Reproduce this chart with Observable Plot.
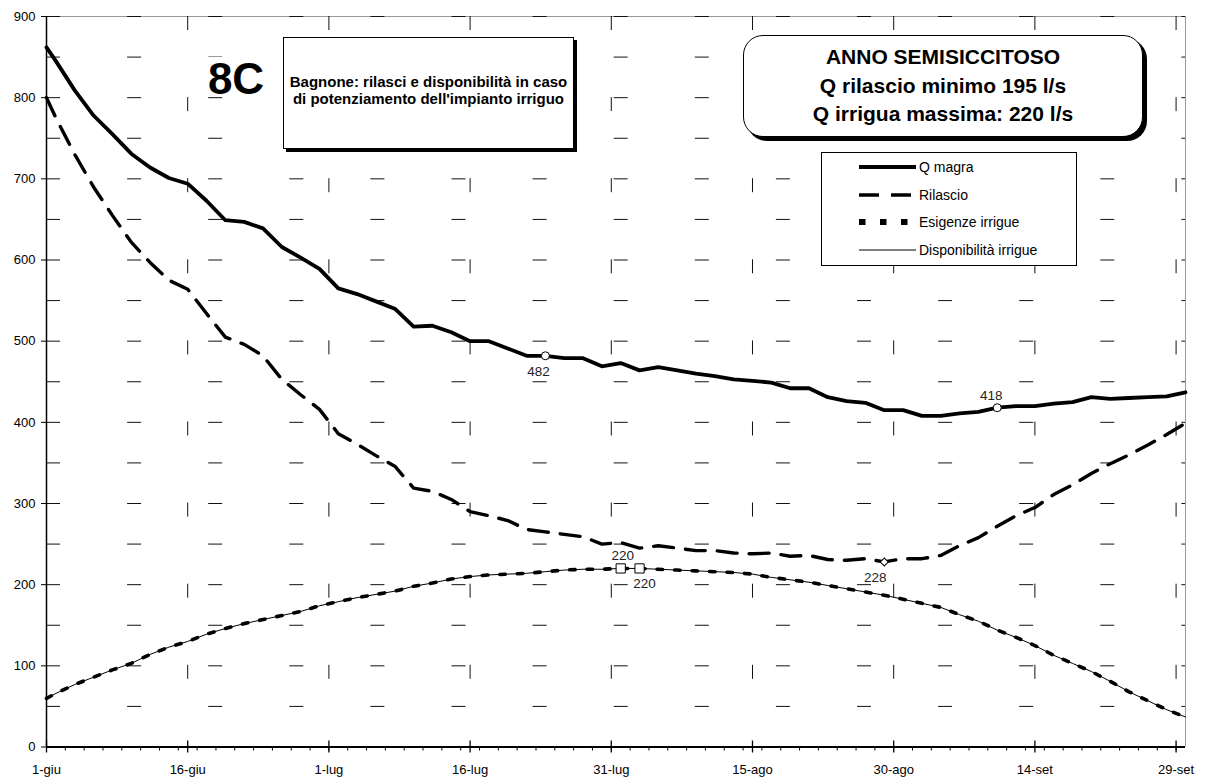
<!DOCTYPE html>
<html>
<head>
<meta charset="utf-8">
<script src="https://cdn.jsdelivr.net/npm/d3@7"></script>
<script src="https://cdn.jsdelivr.net/npm/@observablehq/plot@0.6"></script>
<style>
  html, body { margin: 0; padding: 0; background: #fff; }
  #wrap { position: relative; width: 1206px; height: 783px; font-family: "Liberation Sans", Arial, sans-serif; color: #000; overflow: hidden; }
  #chart { position: absolute; left: 0; top: 0; }
  .abs { position: absolute; box-sizing: border-box; }
  #tag { left: 203px; top: 57px; width: 66px; height: 40px; font-size: 44px; line-height: 44px; font-weight: bold; text-align: center; background: #fff; }
  #box1 { left: 283px; top: 37px; width: 291px; height: 112px; border: 1px solid #000; background: #fff; box-shadow: 3px 3px 0 #000; font-weight: bold; font-size: 15px; line-height: 17.3px; text-align: center; padding-top: 35px; }
  #box2 { left: 743px; top: 35px; width: 400px; height: 102px; border: 1.5px solid #000; border-radius: 20px; background: #fff; box-shadow: 4px 4px 0 #000; font-weight: bold; font-size: 21px; line-height: 28.7px; text-align: center; padding-top: 7px; }
  #legend { left: 821px; top: 152px; width: 256px; height: 114px; border: 1px solid #000; background: #fff; }
  .lrow { position: absolute; left: 0; height: 20px; width: 254px; }
  .lrow svg { position: absolute; left: 37px; top: 0; }
  .lrow span { position: absolute; left: 97px; top: 0; font-size: 14px; line-height: 20px; white-space: nowrap; }
</style>
</head>
<body>
<div id="wrap">
  <div id="chart"></div>
  <div id="tag" class="abs">8C</div>
  <div id="box1" class="abs">Bagnone: rilasci e disponibilità in caso<br>di potenziamento dell'impianto irriguo</div>
  <div id="box2" class="abs">ANNO SEMISICCITOSO<br>Q rilascio minimo 195 l/s<br>Q irrigua massima: 220 l/s</div>
  <div id="legend" class="abs"></div>
</div>
<script>
// ---- data (day index: 0 = 1-giu) ----
const days = [0,1,3,5,7,9,11,13,15,17,19,21,23,25,27,29,31,33,35,37,39,41,43,45,47,49,51,53,55,57,59,61,63,65,67,69,71,73,75,77,79,81,83,85,87,89,91,93,95,97,99,101,103,105,107,109,111,113,115,117,119,121];
const qMagra = [862,845,809,778,755,731,714,701,694,673,649,647,639,616,603,589,565,558,549,540,518,519,511,500,500,491,482,482,479,479,469,473,464,468,464,460,457,453,451,449,442,442,431,426,424,415,415,408,408,411,413,418,420,420,423,425,431,429,430,431,432,437];
const rilascio = [800,775,730,690,655,622,597,575,564,534,505,496,482,453,434,416,386,373,359,346,319,315,305,290,285,279,268,265,262,259,250,252,245,248,245,242,242,239,238,239,235,236,231,230,232,228,232,232,236,248,258,272,285,295,311,323,337,349,360,372,385,399];
const esigenze = [60,66,77,86,95,103,114,123,130,139,146,152,157,162,167,174,179,184,188,192,198,202,207,210,212,213,214,216,218,219,219,220,220,219,218,217,216,215,213,209,206,203,199,195,191,187,182,177,172,163,155,144,135,125,113,103,93,81,68,57,46,37];
const disponibilita = [60,66,77,86,95,103,114,123,130,139,146,152,157,162,167,174,179,184,188,192,198,202,207,210,212,213,214,216,218,219,219,220,220,219,218,217,216,215,213,209,206,203,199,195,191,187,182,177,172,163,155,144,135,125,113,103,93,81,68,57,46,37];

const tickDays = [0,15,30,45,60,75,90,105,120];
const tickLabels = ["1-giu","16-giu","1-lug","16-lug","31-lug","15-ago","30-ago","14-set","29-set"];
const minorDays = d3.range(0, 122, 2);
const yTicks = [0,100,200,300,400,500,600,700,800,900];
const gridY = d3.range(0, 901, 50);

const circleDays = [53, 101];
const circleValues = [482, 418];
const squareDays = [61, 63];
const squareValues = [220, 220];
const diamondDays = [89];
const diamondValues = [228];

const legendLabels = ["Q magra", "Rilascio", "Esigenze irrigue", "Disponibilità irrigue"];

// ---- build ----
const FONT = '"Liberation Sans", Arial, sans-serif';
const rows = days.map((d, i) => ({day: d, q: qMagra[i], r: rilascio[i], e: esigenze[i], a: disponibilita[i]}));
const pts = (ds, vs) => ds.map((d, i) => ({day: d, v: vs[i]}));
const W = 1206, H = 783, mT = 16, mB = 36.5, mL = 46, mR = 21;
const pxY = 900 / (H - mT - mB);

const styleQ = {stroke: "#000", strokeWidth: 3.8, strokeLinejoin: "round"};
const styleR = {stroke: "#000", strokeWidth: 3.4, strokeDasharray: "20,12", strokeLinejoin: "round"};
const styleE = {stroke: "#000", strokeWidth: 3.6, strokeDasharray: "5.5,12"};
const styleA = {stroke: "#000", strokeWidth: 1};

const lbl = (d, v, t, dx, dy) => Plot.text([{day: d, v, t}], {x: "day", y: "v", text: "t", dx, dy, fontSize: 13.5, fill: "#222", fontFamily: FONT});

const chart = Plot.plot({
  width: W, height: H,
  marginTop: mT, marginRight: mR, marginBottom: mB, marginLeft: mL,
  x: {domain: [0, 121]},
  y: {domain: [0, 900]},
  style: {fontFamily: FONT, fontSize: "13px", color: "#000", background: "#fff", overflow: "visible"},
  marks: [
    Plot.ruleY([900], {stroke: "#999", strokeWidth: 1}),
    Plot.ruleX([121], {stroke: "#999", strokeWidth: 1}),
    Plot.ruleY(gridY, {stroke: "#111", strokeWidth: 1, strokeDasharray: "14,67.1"}),
    Plot.ruleX(tickDays.filter(d => d > 0), {stroke: "#111", strokeWidth: 1, strokeDasharray: "14,67.1"}),
    Plot.ruleX(minorDays, {y1: 0, y2: -4 * pxY, stroke: "#000", strokeWidth: 1}),
    Plot.ruleX(tickDays, {y1: -6 * pxY, y2: 6 * pxY, stroke: "#000", strokeWidth: 1.3}),
    Plot.ruleY([0], {stroke: "#000", strokeWidth: 2}),
    Plot.ruleX([0], {stroke: "#000", strokeWidth: 1.5}),
    Plot.axisY(yTicks, {tickSize: 5, tickPadding: 6, fontSize: 13, label: null, fill: "#000"}),
    Plot.axisX(tickDays, {tickSize: 0, tickPadding: 18, fontSize: 13, label: null, fill: "#000",
      tickFormat: d => tickLabels[tickDays.indexOf(d)]}),
    Plot.line(rows, {x: "day", y: "a", ...styleA}),
    Plot.line(rows, {x: "day", y: "e", ...styleE}),
    Plot.line(rows, {x: "day", y: "r", ...styleR}),
    Plot.line(rows, {x: "day", y: "q", ...styleQ}),
    Plot.dot(pts(circleDays, circleValues), {x: "day", y: "v", r: 4, fill: "#fff", stroke: "#000", strokeWidth: 1}),
    Plot.dot(pts(squareDays, squareValues), {x: "day", y: "v", symbol: "square", r: 5.2, fill: "#fff", stroke: "#000", strokeWidth: 1}),
    Plot.dot(pts(diamondDays, diamondValues), {x: "day", y: "v", symbol: "square", r: 3.2, rotate: 45, fill: "#fff", stroke: "#000", strokeWidth: 1}),
    lbl(circleDays[0], circleValues[0], String(circleValues[0]), -7, 16),
    lbl(circleDays[1], circleValues[1], String(circleValues[1]), -6, -12),
    lbl(squareDays[0], squareValues[0], String(squareValues[0]), 2, -13),
    lbl(squareDays[1], squareValues[1], String(squareValues[1]), 5, 15),
    lbl(diamondDays[0], diamondValues[0], String(diamondValues[0]), -9, 16)
  ]
});
document.getElementById("chart").appendChild(chart);

// ---- legend ----
const legendStyles = [styleQ, styleR, {...styleE, strokeWidth: 6, strokeDasharray: "6.5,14.5"}, styleA];
const legendCenters = [14, 42.3, 69, 97.3];
const legend = d3.select("#legend");
legendLabels.forEach((name, i) => {
  const row = legend.append("div").attr("class", "lrow").style("top", (legendCenters[i] - 10) + "px");
  const svg = row.append("svg").attr("width", 58).attr("height", 20);
  const s = legendStyles[i];
  svg.append("line").attr("x1", 0).attr("x2", 57).attr("y1", 10).attr("y2", 10)
    .attr("stroke", s.stroke).attr("stroke-width", s.strokeWidth)
    .attr("stroke-dasharray", s.strokeDasharray || null);
  row.append("span").text(name);
});
</script>
</body>
</html>
